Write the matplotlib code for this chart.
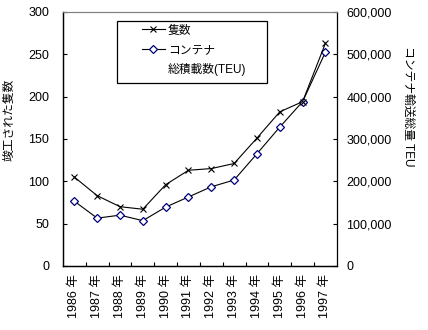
import matplotlib
matplotlib.use("Agg")
import matplotlib.pyplot as plt
from matplotlib.ticker import FuncFormatter, MultipleLocator
from matplotlib.lines import Line2D
from matplotlib.patches import Rectangle

plt.rcParams['font.family'] = ['Liberation Sans', 'Noto Sans CJK JP']

# 竣工隻数とコンテナ総積載数 (1986-1997)
years = [1986, 1987, 1988, 1989, 1990, 1991, 1992, 1993, 1994, 1995, 1996, 1997]
year_labels = [f"{y} 年" for y in years]
ships = [105, 83, 70, 67, 96, 113, 115, 121, 151, 182, 194, 263]
teu = [153000, 113000, 120000, 107000, 139000, 163000, 187000, 203000,
       265000, 328000, 388000, 505000]

NAVY = '#000080'

fig = plt.figure(figsize=(4.28, 3.30), dpi=100)
ax = fig.add_axes([0.147, 0.194, 0.640, 0.770])
ax2 = ax.twinx()

x = list(range(len(years)))
ax.plot(x, ships, color='black', lw=0.8, marker='x', ms=5, mew=0.8,
        mec='black')
ax2.plot(x, teu, color='black', lw=0.8, marker='D', ms=4.5, mew=0.9,
         mec=NAVY, mfc='white')

ax.set_xlim(-0.5, len(years) - 0.5)
ax.set_ylim(0, 300)
ax2.set_ylim(0, 600000)
ax.yaxis.set_major_locator(MultipleLocator(50))
ax2.yaxis.set_major_locator(MultipleLocator(100000))
ax2.yaxis.set_major_formatter(FuncFormatter(lambda v, p: f"{int(v):,}"))

ax.set_xticks(x)
ax.set_xticklabels(year_labels, rotation=90, fontsize=9)
ax.set_xticks([i + 0.5 for i in x[:-1]], minor=True)
ax.tick_params(axis='x', which='major', length=0, pad=6)
ax.tick_params(axis='x', which='minor', direction='in', length=3, width=0.8)
ax.tick_params(axis='y', direction='in', length=3, width=0.8, labelsize=9, pad=10)
ax2.tick_params(axis='y', direction='in', length=3, width=0.8, labelsize=9, pad=7)

for a in (ax, ax2):
    a.spines['top'].set_color('#808080')
    for s in ('left', 'right', 'bottom'):
        a.spines[s].set_linewidth(0.9)
ax.spines['right'].set_visible(False)

ax.set_ylabel('竣工された隻数', fontsize=8.5)
ax.yaxis.set_label_coords(-0.172, 0.575)
ax2.set_ylabel('コンテナ輸送総量 TEU', fontsize=8.5, rotation=-90)
ax2.yaxis.set_label_coords(1.283, 0.63)

# legend: frame drawn as a separate box, entries indented inside it;
# the second label wraps onto a row with no handle
ax.add_patch(Rectangle((0.197, 0.720), 0.547, 0.244, transform=ax.transAxes,
                       facecolor='white', edgecolor='black', lw=0.9,
                       zorder=4, clip_on=False))
handles = [
    Line2D([], [], color='black', lw=0.8, marker='x', ms=4.5, mew=0.8),
    Line2D([], [], color='black', lw=0.8, marker='D', ms=4, mew=0.9,
           mec=NAVY, mfc='white'),
    Line2D([], [], color='none'),
]
leg = ax.legend(handles, ['隻数', 'コンテナ', '総積載数(TEU)'],
                loc='upper left', bbox_to_anchor=(0.288, 0.950),
                fontsize=8.5, frameon=False, handlelength=1.95,
                handletextpad=0.25, borderpad=0, labelspacing=0.6,
                borderaxespad=0)
leg.set_zorder(5)
ax.set_zorder(ax2.get_zorder() + 1)
ax.patch.set_visible(False)

fig.savefig('out.png', dpi=100)
